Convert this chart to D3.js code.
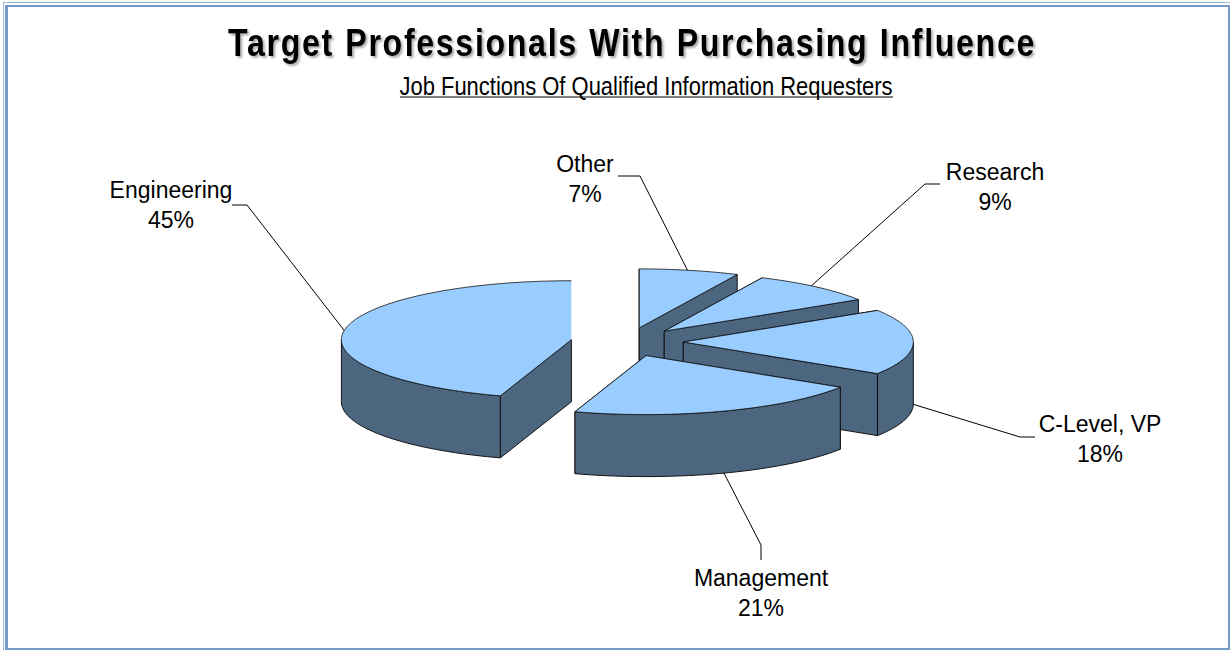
<!DOCTYPE html>
<html>
<head>
<meta charset="utf-8">
<script src="https://cdn.jsdelivr.net/npm/d3@7"></script>
<style>
  html, body { margin: 0; padding: 0; background: #fff; }
  text { font-family: "Liberation Sans", Arial, sans-serif; fill: #000; }
</style>
</head>
<body>
<script>
// clockwise from 12 o'clock
var categories = ["Other", "Research", "C-Level, VP", "Management", "Engineering"];
var percents = [7, 9, 18, 21, 45];
var chartTitle = "Target Professionals With Purchasing Influence";
var chartSubtitle = "Job Functions Of Qualified Information Requesters";

var w = 1230;
var h = 650;

// pie layout
var center = {x: 627, y: 342};
var radius = 230;
var tilt = 59 / 230;
var depth = 62;
var explode = 56.3;

var topColor = "#99ccff";
var sideColor = "#4d6680";
var frameColor = "#7399c6";

// label anchor and leader elbow, same order as categories
var labelSpots = [
    {x: 585, y: 172, elbow: [[640, 176], [618, 176]], at: 0.48},
    {x: 995, y: 180, elbow: [[925, 184], [940, 184]], at: 0.45},
    {x: 1100, y: 432, elbow: [[1020, 437], [1035, 437]], at: 0.505},
    {x: 761, y: 586, elbow: [[761, 545], [761, 560]], at: 0.5},
    {x: 171, y: 198, elbow: [[247, 205], [232, 205]], at: 0.50}
];

var svg = d3.select("body").append("svg")
    .attr("width", w)
    .attr("height", h)
    .style("display", "block");

// frame
var frame = svg.append("g").attr("class", "frame").attr("fill", frameColor);
frame.append("rect").attr("x", 3).attr("y", 2).attr("width", w - 3).attr("height", 1).attr("fill", "#9db8d8");
frame.append("rect").attr("x", 3).attr("y", 2).attr("width", 1).attr("height", h - 2).attr("fill", "#9db8d8");
frame.append("rect").attr("x", 5).attr("y", 5).attr("width", 3).attr("height", h - 5);
frame.append("rect").attr("x", 5).attr("y", 5).attr("width", w - 5).attr("height", 2);
frame.append("rect").attr("x", w - 2).attr("y", 5).attr("width", 2).attr("height", h - 5);
frame.append("rect").attr("x", 5).attr("y", h - 2).attr("width", w - 5).attr("height", 2);

// titles
svg.append("text")
    .attr("x", 632).attr("y", 56)
    .attr("text-anchor", "middle")
    .attr("font-size", 38).attr("font-weight", "bold")
    .attr("letter-spacing", 2).attr("word-spacing", 1)
    .attr("textLength", 808).attr("lengthAdjust", "spacingAndGlyphs")
    .style("filter", "drop-shadow(2px 2px 1px #aaa)")
    .text(chartTitle);

svg.append("text")
    .attr("x", 646).attr("y", 95)
    .attr("text-anchor", "middle")
    .attr("font-size", 26)
    .attr("textLength", 493).attr("lengthAdjust", "spacingAndGlyphs")
    .text(chartSubtitle);
svg.append("line")
    .attr("x1", 400).attr("x2", 893).attr("y1", 97).attr("y2", 97)
    .attr("stroke", "#000").attr("stroke-width", 1);

var pie = d3.pie().sort(null)(percents);

var rx = d3.scaleLinear().domain([0, 1]).range([0, radius]);

// angle is clockwise from 12 o'clock
function project(sl, angle, r, z) {
    var mid = (sl.startAngle + sl.endAngle) / 2;
    var ox = center.x + explode * Math.sin(mid);
    var oy = center.y - explode * Math.cos(mid) * tilt;
    return [
        ox + rx(r) * Math.sin(angle),
        oy - rx(r) * Math.cos(angle) * tilt + z
    ];
}

function arcPoints(sl, a0, a1, z) {
    var n = Math.max(2, Math.ceil((a1 - a0) / 0.02));
    return d3.range(n + 1).map(function(i) {
        return project(sl, a0 + (a1 - a0) * i / n, 1, z);
    });
}

var line = d3.line();

// painter's order: back slices first, management sits in front
var drawOrder = [0, 1, 2, 4, 3];
var slices = svg.append("g").attr("class", "pie");

drawOrder.forEach(function(idx) {
    var sl = pie[idx];
    var g = slices.append("g");
    var closesPie = idx === pie.length - 1;

    // radial walls
    var wallAngles = closesPie ? [sl.startAngle] : [sl.startAngle, sl.endAngle];
    wallAngles.forEach(function(a) {
        var wall = [
            project(sl, a, 0, 0), project(sl, a, 1, 0),
            project(sl, a, 1, depth), project(sl, a, 0, depth)
        ];
        g.append("path")
            .attr("d", line(wall) + "Z")
            .attr("fill", sideColor)
            .attr("stroke", "#111").attr("stroke-width", 1);
    });

    // outer wall, front half only
    var a0 = Math.max(sl.startAngle, Math.PI / 2);
    var a1 = Math.min(sl.endAngle, Math.PI * 1.5);
    if (a1 > a0) {
        var pts = arcPoints(sl, a0, a1, 0).concat(arcPoints(sl, a0, a1, depth).reverse());
        g.append("path")
            .attr("d", line(pts) + "Z")
            .attr("fill", sideColor)
            .attr("stroke", "#111").attr("stroke-width", 1);
    }

    // top face, the edge at 12 o'clock on engineering has no outline
    var face = [project(sl, 0, 0, 0)].concat(arcPoints(sl, sl.startAngle, sl.endAngle, 0));
    g.append("path")
        .attr("d", line(face) + "Z")
        .attr("fill", topColor);
    g.append("path")
        .attr("d", line(face) + (closesPie ? "" : "Z"))
        .attr("fill", "none")
        .attr("stroke", "#111").attr("stroke-width", 0.8);
});

// leader lines and labels
var labels = svg.append("g").attr("class", "labels");

categories.forEach(function(name, i) {
    var sl = pie[i];
    var spot = labelSpots[i];
    var ang = sl.startAngle + (sl.endAngle - sl.startAngle) * spot.at;
    var front = ang > Math.PI / 2 && ang < Math.PI * 1.5;
    var start = project(sl, ang, 1, front ? depth : 0);

    labels.append("path")
        .attr("d", line([start].concat(spot.elbow)))
        .attr("fill", "none")
        .attr("stroke", "#000").attr("stroke-width", 1);

    var t = labels.append("text")
        .attr("x", spot.x).attr("y", spot.y)
        .attr("text-anchor", "middle")
        .attr("font-size", 23);
    t.append("tspan").attr("x", spot.x).text(name);
    t.append("tspan").attr("x", spot.x).attr("dy", 30).text(percents[i] + "%");
});
</script>
</body>
</html>
